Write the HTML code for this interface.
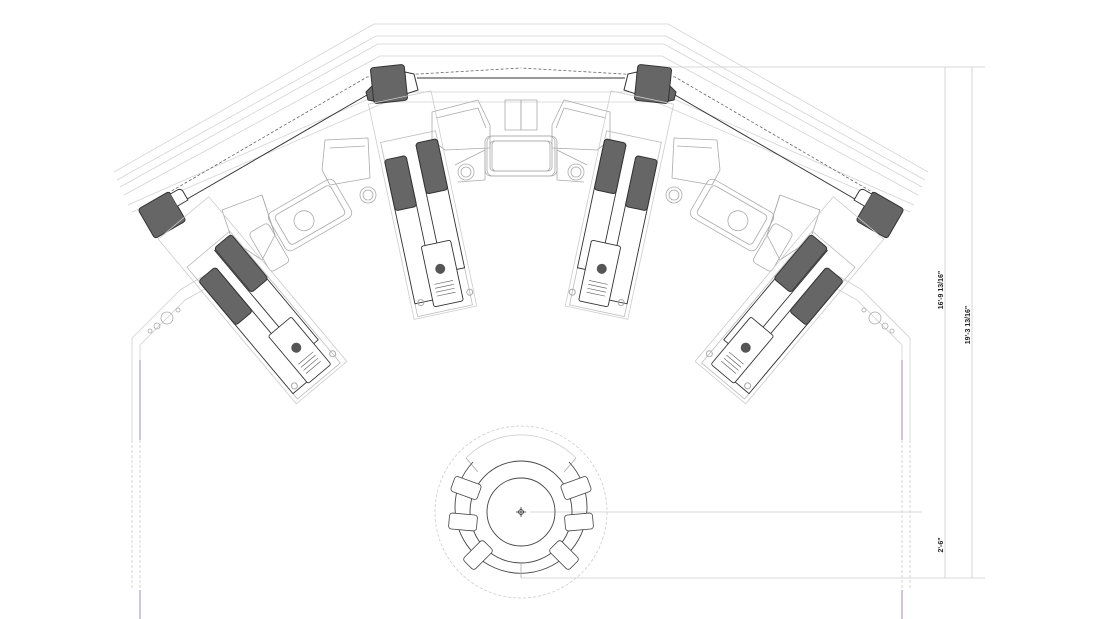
<!DOCTYPE html>
<html><head><meta charset="utf-8"><style>
html,body{margin:0;padding:0;background:#fff;width:1100px;height:619px;overflow:hidden}
svg{display:block}
text{font-family:"Liberation Sans",sans-serif;font-weight:bold;font-size:7px;fill:#222}
</style></head><body>
<svg width="1100" height="619" viewBox="0 0 1100 619" xmlns="http://www.w3.org/2000/svg">
<defs>
<g id="half" fill="none" stroke-linejoin="round">
  <g stroke="#d4d4d4" stroke-width="0.8">
    <polyline points="114,172 374,24 521,24"/>
    <polyline points="117,180 376,36 521,36"/>
    <polyline points="120,187 378,44 521,44"/>
    <polyline points="124,195 380,56 521,56"/>
    <polyline points="128,205 384,92 521,92"/>
    <polyline points="132,212 386,102 521,102"/>
  </g>
  <polyline points="163,196 367,77 521,68" stroke="#666" stroke-width="0.8" stroke-dasharray="3,2"/>
  <polyline points="182,202 367,95" stroke="#333" stroke-width="1"/>
  <line x1="417" y1="78" x2="521" y2="78" stroke="#333" stroke-width="1"/>
  <g stroke="#cfcfcf" stroke-width="0.8">
    <polyline points="132,338 180,290 205,275"/>
    <polyline points="140,345 185,300 212,285"/>
    <line x1="132" y1="338" x2="132" y2="440"/>
    <line x1="140" y1="345" x2="140" y2="440"/>
  </g>
  <circle cx="167" cy="318" r="6" stroke="#aaa" stroke-width="0.8"/>
  <circle cx="157" cy="326" r="3" stroke="#aaa" stroke-width="0.8"/>
  <circle cx="150" cy="331" r="2" stroke="#aaa" stroke-width="0.8"/>
  <circle cx="178" cy="310" r="2" stroke="#aaa" stroke-width="0.8"/>
  <line x1="140" y1="360" x2="140" y2="440" stroke="#a58ab5" stroke-width="1"/>
  <line x1="140" y1="590" x2="140" y2="619" stroke="#a58ab5" stroke-width="1"/>
  <line x1="132" y1="440" x2="132" y2="590" stroke="#ccc" stroke-width="0.8" stroke-dasharray="3,2"/>
  <line x1="140" y1="440" x2="140" y2="590" stroke="#ccc" stroke-width="0.8" stroke-dasharray="3,2"/>
  <path d="M372,86 L366,92 L368,100 L378,102 Z" fill="#666" stroke="#333" stroke-width="1"/>
  <path d="M405,72 L414,74 L418,90 L406,94 Z" fill="#fff" stroke="#333" stroke-width="1"/>
  <rect x="372" y="66" width="34" height="36" rx="3" transform="rotate(-6 389 84)" fill="#666" stroke="#333" stroke-width="1"/>
  <g transform="translate(162,215) rotate(-30)">
    <rect x="-18" y="-17" width="36" height="34" rx="3" fill="#666" stroke="#333"/>
    <path d="M18,-14 h8 a4,4 0 0 1 4,4 v10 h-12" stroke="#333" fill="#fff"/>
  </g>
  <g stroke="#aaa" stroke-width="0.8">
    <path d="M432,112 L478,100 L490,125 L490,148 L445,150 L432,140 Z"/>
    <path d="M436,118 L478,108 L486,128"/>
    <rect x="485" y="136" width="70" height="40" rx="6"/>
    <rect x="490" y="141" width="60" height="30" rx="4"/>
    <circle cx="466" cy="172" r="8"/><circle cx="466" cy="172" r="5"/>
    <path d="M455,165 L485,150 L485,180 L458,182"/>
    <path d="M505,100 L521,100 L521,130 L505,130 Z"/>
  </g>
  <g stroke="#aaa" stroke-width="0.8">
    <path d="M325,140 L368,138 L370,178 L330,185 L322,170 Z"/>
    <path d="M330,148 L365,146"/>
    <circle cx="368" cy="195" r="8"/><circle cx="368" cy="195" r="5"/>
    <g transform="translate(310,215) rotate(-30)">
      <rect x="-38" y="-22" width="76" height="44" rx="6"/>
      <rect x="-32" y="-17" width="64" height="34" rx="4"/>
      <circle cx="-8" cy="2" r="10"/>
    </g>
    <path d="M222,210 L262,195 L275,235 L262,260 L232,240 Z"/>
    <path d="M262,195 L275,235"/>
    <rect x="258" y="225" width="22" height="45" rx="4" transform="rotate(-30 269 247)"/>
  </g>
  <g transform="translate(388,100) rotate(-12)">
    <rect x="-20" y="0" width="64" height="220" stroke="#ccc" stroke-width="0.8"/>
    <rect x="-16" y="40" width="56" height="178" stroke="#bbb" stroke-width="0.8"/>
    <path d="M-16,60 h22 v120 h20 v25 h-42 Z" stroke="#333" stroke-width="0.9" fill="#fff"/>
    <path d="M18,50 h22 v130 h-22 Z" stroke="#333" stroke-width="0.9" fill="#fff"/>
    <rect x="-16" y="58" width="22" height="52" rx="3" fill="#666" stroke="#333"/>
    <rect x="18" y="48" width="22" height="52" rx="3" fill="#666" stroke="#333"/>
    <rect x="2" y="150" width="30" height="62" rx="2" stroke="#333" stroke-width="0.9" fill="#fff"/>
    <circle cx="16" cy="176" r="5" fill="#555"/>
    <g stroke="#555" stroke-width="0.6"><line x1="7" y1="190" x2="26" y2="190"/><line x1="7" y1="194" x2="26" y2="194"/><line x1="7" y1="198" x2="26" y2="198"/><line x1="7" y1="202" x2="26" y2="202"/></g>
    <circle cx="-10" cy="205" r="3" stroke="#aaa"/><circle cx="40" cy="205" r="3" stroke="#aaa"/>
  </g>
  <g transform="translate(175,225) rotate(-40)">
    <rect x="-22" y="0" width="66" height="215" stroke="#ccc" stroke-width="0.8"/>
    <rect x="-18" y="40" width="56" height="172" stroke="#bbb" stroke-width="0.8"/>
    <path d="M-18,60 h22 v120 h20 v25 h-42 Z" stroke="#333" stroke-width="0.9" fill="#fff"/>
    <path d="M14,45 h22 v135 h-22 Z" stroke="#333" stroke-width="0.9" fill="#fff"/>
    <rect x="-18" y="58" width="22" height="58" rx="3" fill="#666" stroke="#333"/>
    <rect x="15" y="43" width="22" height="58" rx="3" fill="#666" stroke="#333"/>
    <rect x="0" y="145" width="30" height="62" rx="2" stroke="#333" stroke-width="0.9" fill="#fff"/>
    <circle cx="14" cy="172" r="5" fill="#555"/>
    <g stroke="#555" stroke-width="0.6"><line x1="5" y1="186" x2="24" y2="186"/><line x1="5" y1="190" x2="24" y2="190"/><line x1="5" y1="194" x2="24" y2="194"/><line x1="5" y1="198" x2="24" y2="198"/></g>
    <circle cx="-12" cy="200" r="3" stroke="#aaa"/><circle cx="38" cy="200" r="3" stroke="#aaa"/>
  </g>
</g>
</defs>
<use href="#half"/>
<use href="#half" transform="translate(1042,0) scale(-1,1)"/>

<g stroke="#ccc" stroke-width="0.8" fill="none">
  <line x1="668" y1="67" x2="985" y2="67"/>
  <line x1="521" y1="578" x2="985" y2="578"/>
  <line x1="530" y1="512" x2="922" y2="512"/>
  <line x1="945" y1="67" x2="945" y2="578"/>
  <line x1="972" y1="67" x2="972" y2="578"/>
</g>
<text transform="translate(943,290) rotate(-90)" text-anchor="middle">16'-9 13/16"</text>
<text transform="translate(970,325) rotate(-90)" text-anchor="middle">19'-3 13/16"</text>
<text transform="translate(943,545) rotate(-90)" text-anchor="middle">2'-6"</text>

<g fill="none">
  <circle cx="521" cy="512" r="86" stroke="#ccc" stroke-width="0.8" stroke-dasharray="3,2"/>
  <path d="M466,458 A77,77 0 0 1 576,458" stroke="#ccc" stroke-width="0.8"/>
  <path d="M466,458 L478,472 M576,458 L564,472" stroke="#aaa" stroke-width="0.8"/>
  <path d="M473,462 A66,66 0 1 0 569,462" stroke="#444" stroke-width="0.9"/>
  <circle cx="521" cy="512" r="51" stroke="#444" stroke-width="0.9"/>
  <circle cx="521" cy="512" r="34" stroke="#444" stroke-width="0.9"/>
  <line x1="521" y1="563" x2="521" y2="578" stroke="#aaa" stroke-width="0.8"/>
  <g stroke="#333" stroke-width="0.8">
    <line x1="516" y1="512" x2="526" y2="512"/><line x1="521" y1="507" x2="521" y2="517"/>
    <circle cx="521" cy="512" r="2.5"/>
  </g>
  <g stroke="#444" stroke-width="0.8" fill="#fff">
    <rect x="-14" y="-8" width="28" height="16" rx="3" transform="translate(466,488) rotate(20)"/>
    <rect x="-14" y="-8" width="28" height="16" rx="3" transform="translate(576,488) rotate(-20)"/>
    <rect x="-14" y="-8" width="28" height="16" rx="3" transform="translate(463,522) rotate(5)"/>
    <rect x="-14" y="-8" width="28" height="16" rx="3" transform="translate(579,522) rotate(-5)"/>
    <rect x="-14" y="-8" width="28" height="16" rx="3" transform="translate(478,555) rotate(-45)"/>
    <rect x="-14" y="-8" width="28" height="16" rx="3" transform="translate(564,555) rotate(45)"/>
  </g>
</g>
</svg>
</body></html>
